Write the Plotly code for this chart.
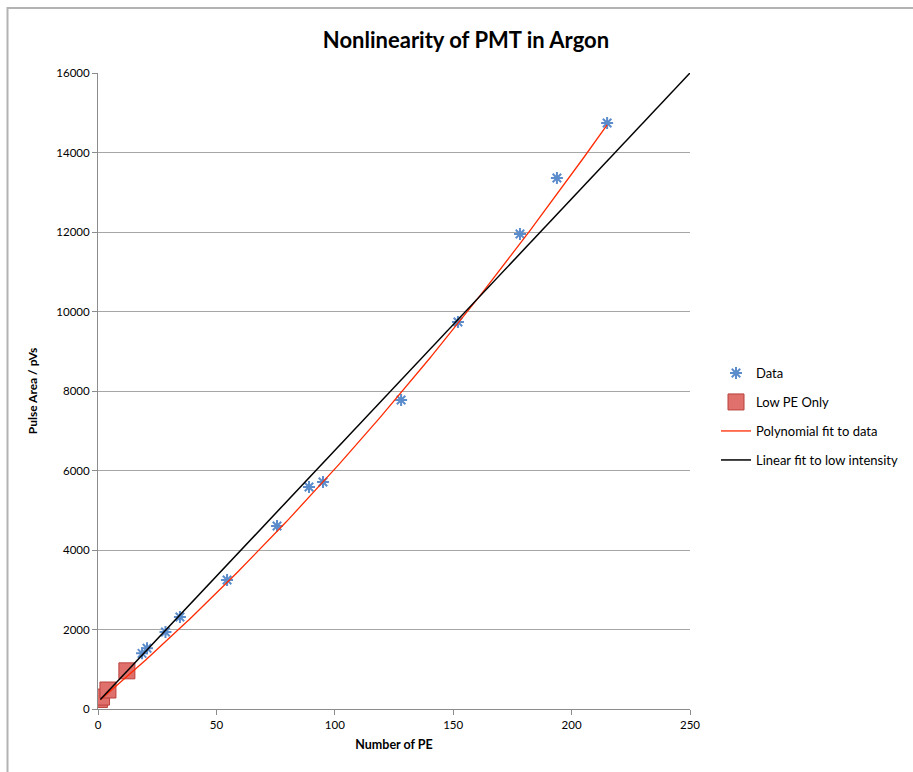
import plotly.graph_objects as go

# Data
data_pe = [18.6, 20.7, 28.5, 34.6, 54.5, 75.6, 89.1, 95.0, 128.0, 152.0, 178.2, 193.8, 215.0]
data_area = [1400, 1530, 1937, 2314, 3245, 4604, 5585, 5711, 7774, 9736, 11950, 13358, 14742]

low_pe = [0.6, 1.5, 4.2, 12.2]
low_area = [240, 300, 478, 960]

# Fit coefficients (estimated)
poly_c = [179.0, 50.8, 0.0778]   # a + b x + c x^2
lin_c = [175.0, 63.3]            # a + b x

poly_x = [1 + i * (215 - 1) / 200 for i in range(201)]
poly_y = [poly_c[0] + poly_c[1] * x + poly_c[2] * x * x for x in poly_x]
lin_x = [1.0, 250.0]
lin_y = [lin_c[0] + lin_c[1] * x for x in lin_x]

FONT = "Lato, 'Open Sans', sans-serif"

fig = go.Figure()
fig.add_trace(go.Scatter(
    x=data_pe, y=data_area, mode="markers", name="Data", legend="legend",
    marker=dict(symbol="asterisk-open", size=10, color="#5B8CCB",
                line=dict(color="#5B8CCB", width=2))))
fig.add_trace(go.Scatter(
    x=low_pe, y=low_area, mode="markers", name="Low PE Only", legend="legend2",
    marker=dict(symbol="square", size=16, color="#E0706B",
                line=dict(color="#B9413D", width=1))))
fig.add_trace(go.Scatter(
    x=poly_x, y=poly_y, mode="lines", name="Polynomial fit to data", legend="legend3",
    line=dict(color="#FF2A00", width=1.3)))
fig.add_trace(go.Scatter(
    x=lin_x, y=lin_y, mode="lines", name="Linear fit to low intensity", legend="legend4",
    line=dict(color="#000000", width=1.5)))

L, R, T, B = 98, 690, 73, 709
W, H = 913, 772
pw, ph = R - L, B - T

def px(x):
    return (x - L) / pw

def py(y):
    return (B - y) / ph

def leg(ycenter):
    return dict(xref="container", yref="container", x=716 / W, y=1 - ycenter / H,
                xanchor="left", yanchor="middle",
                font=dict(size=13, family=FONT), itemwidth=30,
                bgcolor="rgba(0,0,0,0)")

fig.update_layout(
    width=W, height=H,
    margin=dict(l=L, r=W - R, t=T, b=H - B, pad=0, autoexpand=False),
    paper_bgcolor="white", plot_bgcolor="white",
    font=dict(family=FONT, size=11, color="#000000"),
    title=dict(text="<b>Nonlinearity of PMT in Argon</b>", x=466 / W, xanchor="center",
               y=1 - 40 / H, yanchor="middle", font=dict(size=22, family=FONT)),
    showlegend=True,
    legend=leg(373), legend2=leg(402), legend3=leg(431), legend4=leg(460),
    xaxis=dict(range=[0, 250], tickvals=[0, 50, 100, 150, 200, 250],
               showgrid=False, zeroline=False, showline=True, linecolor="#8C8C8C",
               linewidth=1, ticks="outside", ticklen=5, tickcolor="#8C8C8C",
               tickfont=dict(size=11.5), fixedrange=True,
               title=dict(text="<b>Number of PE</b>", font=dict(size=12.5), standoff=10)),
    yaxis=dict(range=[0, 16000], tickvals=list(range(0, 16001, 2000)), tickformat="d",
               showgrid=True, gridcolor="#A6A6A6", gridwidth=1,
               zeroline=False, showline=True, linecolor="#8C8C8C",
               linewidth=1, ticks="outside", ticklen=5, tickcolor="#8C8C8C",
               tickfont=dict(size=11.5), fixedrange=True,
               title=dict(text="<b>Pulse Area / pVs</b>", font=dict(size=12), standoff=16)),
    shapes=[dict(type="path", xref="paper", yref="paper",
                 path=f"M {px(7.5)},{py(780)} L {px(7.5)},{py(8)} L {px(920)},{py(8)}",
                 line=dict(color="#B3B3B3", width=2))],
)

fig.write_html("out.html")
